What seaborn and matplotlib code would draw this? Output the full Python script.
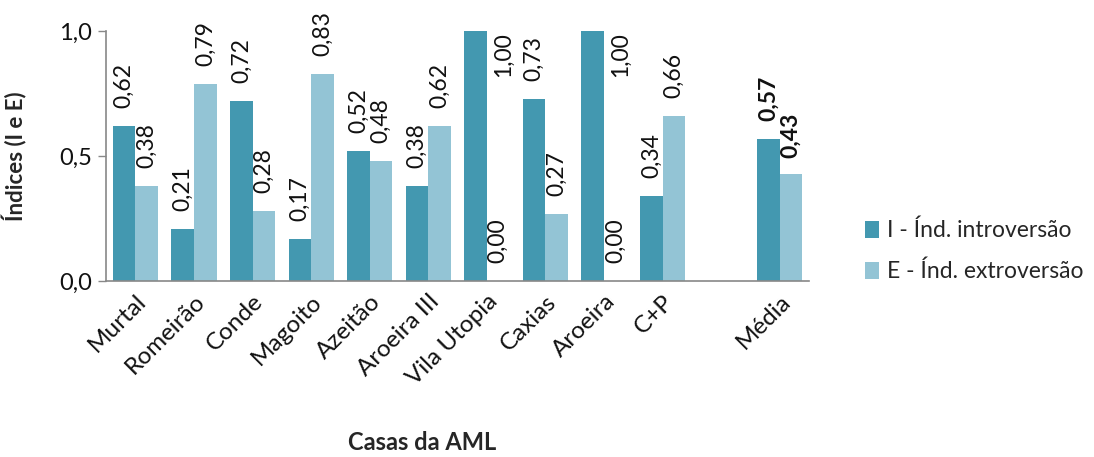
import matplotlib
matplotlib.use("Agg")
import matplotlib.pyplot as plt
import seaborn as sns
import pandas as pd
import numpy as np

categories = ["Murtal", "Romeirão", "Conde", "Magoito", "Azeitão", "Aroeira III",
              "Vila Utopia", "Caxias", "Aroeira", "C+P", " ", "Média"]
introversao = [0.62, 0.21, 0.72, 0.17, 0.52, 0.38, 1.00, 0.73, 1.00, 0.34, np.nan, 0.57]
extroversao = [0.38, 0.79, 0.28, 0.83, 0.48, 0.62, 0.00, 0.27, 0.00, 0.66, np.nan, 0.43]
series_names = ["I - Índ. introversão", "E - Índ. extroversão"]
colors = ["#4398B0", "#93C4D5"]
y_ticks = [0.0, 0.5, 1.0]
y_tick_labels = ["0,0", "0,5", "1,0"]

sns.set_theme(style="white")
plt.rcParams['font.family'] = ['Lato', 'DejaVu Sans']

df = pd.DataFrame({
    "Casa": categories * 2,
    "Índice": introversao + extroversao,
    "Série": [series_names[0]] * len(categories) + [series_names[1]] * len(categories),
})

FS = 16.5
fig = plt.figure(figsize=(10.94, 4.57), dpi=100)
ax = fig.add_axes([0.097, 0.385, 0.6425, 0.547])
sns.barplot(data=df, x="Casa", y="Índice", hue="Série", order=categories,
            hue_order=series_names, palette=colors, width=0.77, saturation=1,
            ax=ax, linewidth=0)

ax.set_ylim(0, 1.0)
ax.set_xlim(-0.5, len(categories) - 0.5)
ax.set_yticks(y_ticks)
ax.set_yticklabels(y_tick_labels, fontsize=FS + 0.5, color="#111111")
ax.set_xticks(range(len(categories)))
ax.set_xticklabels(categories, rotation=45, ha="right", rotation_mode="anchor",
                   fontsize=FS + 1, color="#111111")
ax.tick_params(axis="x", length=0, pad=7)
ax.set_xticks(np.arange(-0.5, len(categories), 1.0), minor=True)
ax.tick_params(axis="x", which="minor", length=6, color="#888888", width=1, direction="out")
ax.tick_params(axis="y", length=6, color="#888888", width=1, direction="out", left=True, pad=4)
for s in ["top", "right"]:
    ax.spines[s].set_visible(False)
for s in ["left", "bottom"]:
    ax.spines[s].set_color("#888888")
    ax.spines[s].set_linewidth(1.2)

ax.set_ylabel("Índices (I e E)", fontsize=16, fontweight="bold")
ax.yaxis.set_label_coords(-0.112, 0.5)
ax.set_xlabel("Casas da AML", fontsize=17, fontweight="bold")
ax.xaxis.set_label_coords(0.45, -0.6)

# value labels
series_vals = [introversao, extroversao]
for cont_idx, cont in enumerate(ax.containers):
    for rect in cont.patches:
        x = rect.get_x() + rect.get_width() / 2
        i = int(round(x))
        v = series_vals[cont_idx][i]
        if np.isnan(v):
            continue
        bold = categories[i] == "Média"
        txt = f"{v:.2f}".replace(".", ",")
        if v >= 1.0:
            ax.annotate(txt, (x + rect.get_width(), v), xytext=(4, -1),
                        textcoords="offset points", rotation=90, ha="center", va="top",
                        fontsize=FS, color="#111111")
        else:
            off = 13
            if bold and cont_idx == 1:
                off = 11
            ax.annotate(txt, (x, v), xytext=(0, off), textcoords="offset points",
                        rotation=90, ha="center", va="bottom", fontsize=FS,
                        color="#111111", fontweight="bold" if bold else "normal")

leg = ax.legend(loc="center left", bbox_to_anchor=(1.05, 0.12), frameon=False,
                fontsize=FS, handlelength=0.6, handleheight=0.8, handletextpad=0.35,
                labelspacing=0.85)

fig.savefig("out.png", dpi=100)
